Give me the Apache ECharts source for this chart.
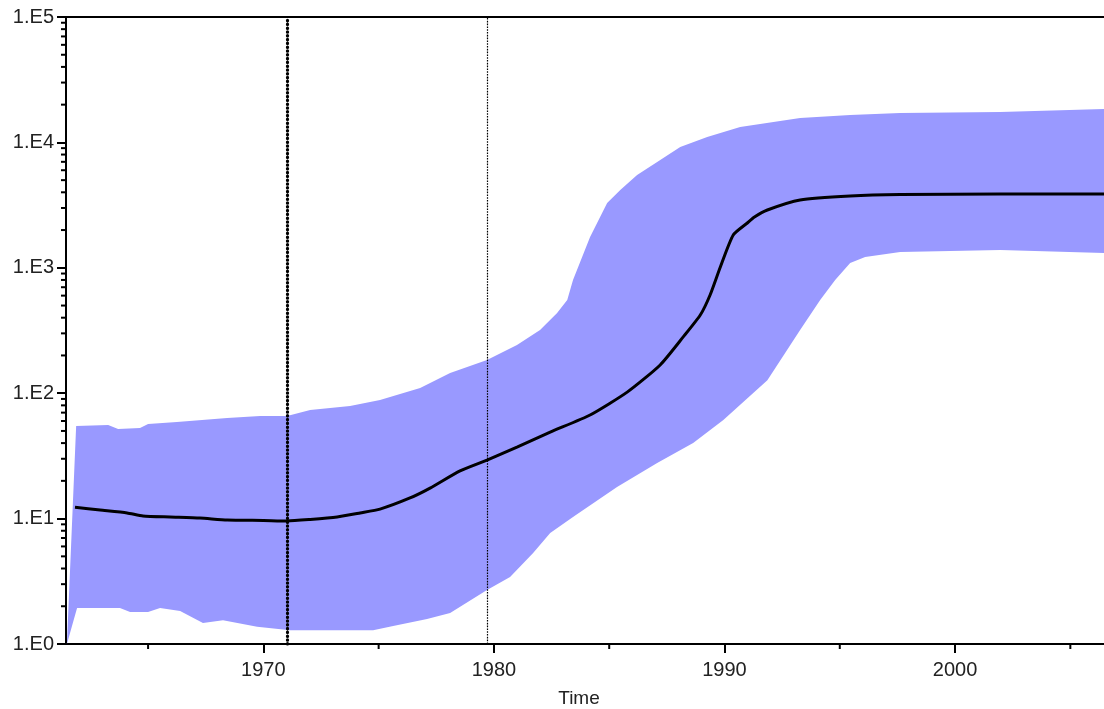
<!DOCTYPE html>
<html><head><meta charset="utf-8">
<script src="https://cdn.jsdelivr.net/npm/echarts@6/dist/echarts.min.js"></script>
<style>html,body{margin:0;padding:0;background:#fff}#c{width:1104px;height:709px}</style>
</head><body><div id="c"></div>
<script>
// ---- data ----
const medianYears  = [1961.83,1962.92,1964.09,1964.78,1965.95,1967.25,1968.43,1970.0,1971.03,1972.03,1973.2,1974.2,1975.06,1976.36,1977.23,1978.53,1979.7,1981.0,1982.44,1984.17,1985.78,1987.21,1988.21,1988.95,1989.38,1989.82,1990.38,1990.99,1991.3,1991.86,1993.28,1995.45,1997.62,2001.96,2006.46];
const medianValues = [12.3,11.7,11.1,10.5,10.3,10.1,9.75,9.66,9.57,9.84,10.3,11.1,11.9,14.6,17.5,24.0,29.3,37.2,49.0,67.0,102,168,281,420,610,1015,1827,2276,2541,2890,3473,3738,3842,3877,3877];

const upperYears  = [1961.48,1961.88,1963.27,1963.7,1964.65,1965.0,1966.25,1968.43,1969.86,1971.03,1972.03,1973.76,1975.06,1976.8,1978.1,1979.7,1981.0,1982.0,1982.74,1983.18,1983.43,1984.17,1984.91,1985.48,1986.21,1987.08,1988.08,1989.25,1990.68,1993.28,1995.45,1997.62,2001.96,2006.46];
const upperValues = [1.0,54.7,55.8,51.8,52.8,56.8,58.9,63.4,65.8,65.8,73.5,79.1,88.3,110,145,184,242,319,436,554,799,1761,3287,4173,5495,6978,9190,11040,13270,15650,16540,17160,17480,18460];

const lowerYears  = [1961.48,1961.92,1963.78,1964.22,1965.0,1965.52,1966.39,1967.38,1968.25,1969.73,1971.16,1974.76,1975.63,1977.1,1978.1,1979.7,1980.7,1981.7,1982.44,1983.43,1985.34,1987.08,1988.64,1989.95,1991.86,1993.28,1994.15,1994.8,1995.45,1996.1,1997.62,2001.96,2006.46];
const lowerValues = [1.0,1.94,1.94,1.80,1.80,1.94,1.83,1.47,1.55,1.37,1.29,1.29,1.39,1.58,1.77,2.70,3.42,5.32,7.68,10.3,17.9,27.8,40.1,61.1,127,319,554,799,1092,1220,1337,1387,1312];

const markerYears = [1971.03, 1979.7];

const xMin = 1961.44, xMax = 2006.46;
const xMajorTicks = [1970, 1980, 1990, 2000];
const xMinorTicks = [1965, 1975, 1985, 1995, 2005];
const yMin = 1, yMax = 100000;
const yMinorTicks = [2,3,4,5,6,7,8,9,20,30,40,50,60,70,80,90,200,300,400,500,600,700,800,900,
                     2000,3000,4000,5000,6000,7000,8000,9000,20000,30000,40000,50000,60000,70000,80000,90000];
const xAxisName = 'Time';

// ---- chart ----
const FONT = "'Liberation Sans', Arial, sans-serif";
const chart = echarts.init(document.getElementById('c'), null, {renderer: 'canvas'});

const option = {
  animation: false,
  backgroundColor: '#fff',
  grid: {left: 66, right: 0, top: 17, bottom: 65, containLabel: false, outerBoundsMode: 'none'},
  xAxis: [{
    type: 'value', min: xMin, max: xMax,
    name: xAxisName, nameLocation: 'middle', nameGap: 45,
    nameTextStyle: {fontFamily: FONT, fontSize: 19, color: '#222', padding: [0, 12, 0, 0]},
    axisLine: {show: true, onZero: false, lineStyle: {color: '#000', width: 2}},
    axisTick: {show: true, customValues: xMajorTicks, length: 9, lineStyle: {color: '#000', width: 2}},
    axisLabel: {show: true, customValues: xMajorTicks, margin: 16, fontFamily: FONT, fontSize: 20, color: '#222',
                formatter: v => String(Math.round(v))},
    splitLine: {show: false}
  }, {
    type: 'value', min: xMin, max: xMax, position: 'top',
    axisLine: {show: true, onZero: false, lineStyle: {color: '#000', width: 2}},
    axisTick: {show: false}, axisLabel: {show: false}, splitLine: {show: false}
  }],
  yAxis: [{
    type: 'log', logBase: 10, min: yMin, max: yMax, splitNumber: 5,
    axisLine: {show: true, onZero: false, lineStyle: {color: '#000', width: 2}},
    axisTick: {show: true, length: 9, lineStyle: {color: '#000', width: 2}},
    axisLabel: {show: true, margin: 12, fontFamily: FONT, fontSize: 20, color: '#222',
                formatter: v => '1.E' + Math.round(Math.log10(v))},
    splitLine: {show: false}
  }],
  series: [
    {
      name: 'band', type: 'custom', coordinateSystem: 'cartesian2d', xAxisIndex: 0, yAxisIndex: 0,
      clip: true, z: 1, silent: true,
      data: [[upperYears[0], upperValues[0]]],
      renderItem: function (params, api) {
        const pts = [];
        for (let i = 0; i < upperYears.length; i++) pts.push(api.coord([upperYears[i], upperValues[i]]));
        for (let i = lowerYears.length - 1; i >= 0; i--) pts.push(api.coord([lowerYears[i], lowerValues[i]]));
        return {type: 'polygon', shape: {points: pts}, style: {fill: '#9999ff', stroke: null}};
      }
    },
    {
      name: 'median', type: 'line', xAxisIndex: 0, yAxisIndex: 0, z: 3,
      data: medianYears.map((y, i) => [y, medianValues[i]]),
      showSymbol: false, smooth: 0.2, silent: true,
      lineStyle: {color: '#000', width: 3},
      markLine: {
        silent: true, symbol: ['none', 'none'], label: {show: false}, animation: false,
        data: [
          {xAxis: markerYears[0], lineStyle: {color: '#000', width: 3.2, type: [0.4, 3.4], cap: 'round'}},
          {xAxis: markerYears[1], lineStyle: {color: '#000', width: 1.2, type: [1.6, 1.2]}}
        ]
      }
    },
    {
      name: 'yMinorTicks', type: 'custom', coordinateSystem: 'cartesian2d', clip: false, z: 5, silent: true,
      data: yMinorTicks.map(v => [xMin, v]),
      renderItem: function (params, api) {
        const p = api.coord([api.value(0), api.value(1)]);
        return {type: 'line', shape: {x1: p[0] - 5, y1: p[1], x2: p[0], y2: p[1]},
                style: {stroke: '#000', lineWidth: 2}};
      }
    },
    {
      name: 'xMinorTicks', type: 'custom', coordinateSystem: 'cartesian2d', clip: false, z: 5, silent: true,
      data: xMinorTicks.map(v => [v, yMin]),
      renderItem: function (params, api) {
        const p = api.coord([api.value(0), api.value(1)]);
        return {type: 'line', shape: {x1: p[0], y1: p[1], x2: p[0], y2: p[1] + 5},
                style: {stroke: '#000', lineWidth: 2}};
      }
    }
  ]
};
chart.setOption(option);
</script>
</body></html>
